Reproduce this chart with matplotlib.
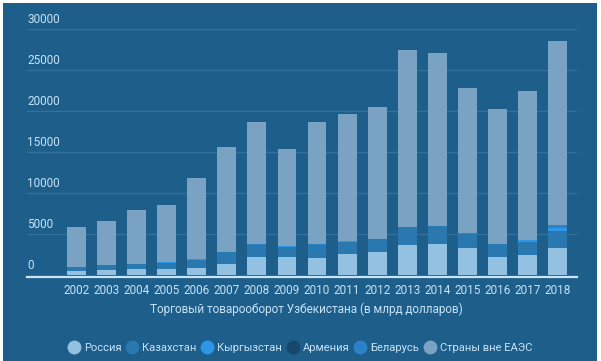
import matplotlib
matplotlib.use('Agg')
import matplotlib.pyplot as plt
from matplotlib.patches import Rectangle
from matplotlib.lines import Line2D
import matplotlib.transforms as mtransforms
import numpy as np

plt.rcParams['font.family'] = ['Roboto', 'DejaVu Sans']

years = ['2002', '2003', '2004', '2005', '2006', '2007', '2008', '2009', '2010',
         '2011', '2012', '2013', '2014', '2015', '2016', '2017', '2018']
russia = [560, 680, 800, 800, 930, 1420, 2230, 2270, 2150, 2560, 2800, 3730, 3850, 3290, 2230, 2510, 3290]
kazakhstan = [430, 550, 550, 750, 990, 1390, 1510, 1230, 1590, 1550, 1620, 2160, 2160, 1790, 1580, 1590, 2150]
kyrgyzstan = [15, 15, 15, 15, 15, 15, 15, 15, 15, 15, 15, 15, 15, 15, 15, 150, 300]
armenia = [3, 3, 3, 3, 3, 3, 3, 3, 3, 3, 3, 3, 3, 3, 3, 5, 20]
belarus = [20, 20, 20, 20, 20, 20, 20, 20, 20, 20, 20, 20, 20, 20, 20, 30, 350]
totals = [5850, 6660, 7930, 8570, 11830, 15610, 18730, 15400, 18660, 19670, 20530,
          27480, 27070, 22840, 20320, 22440, 28540]
others = [t - r - k - ky - a - b for t, r, k, ky, a, b in
          zip(totals, russia, kazakhstan, kyrgyzstan, armenia, belarus)]

series_names = ['Россия', 'Казахстан', 'Кыргызстан', 'Армения', 'Беларусь', 'Страны вне ЕАЭС']
series_values = [russia, kazakhstan, kyrgyzstan, armenia, belarus, others]
series_colors = ['#92c1e2', '#2a78b0', '#2e96e6', '#17476d', '#2c82c6', '#7aa2c2']

y_ticks = [0, 5000, 10000, 15000, 20000, 25000, 30000]
x_label = 'Торговый товарооборот Узбекистана (в млрд долларов)'

BG = '#1d5e8b'
TEXT = '#c5e3f7'
GRID = '#33729e'

W, H = 601, 361
fig = plt.figure(figsize=(W / 100, H / 100), dpi=100, facecolor='white')
fig.patches.append(Rectangle((3 / W, 0), (W - 7) / W, (H - 3) / H,
                             transform=fig.transFigure, facecolor=BG,
                             edgecolor='none', zorder=-10))

ax = fig.add_axes([27 / W, (H - 276.8) / H, 550 / W, 247.5 / H])
ax.set_facecolor('none')

x = np.arange(len(years))
bottom = np.zeros(len(years))
for name, vals, col in zip(series_names, series_values, series_colors):
    ax.bar(x, vals, width=0.63, bottom=bottom, color=col, label=name, zorder=3)
    bottom += np.array(vals)

ax.set_xlim(-1.65, len(years) - 1 + 0.65)
ax.set_ylim(-180, 30000)

for v in y_ticks[1:]:
    ax.axhline(v, color=GRID, linewidth=1.0, zorder=1)

for s in ['top', 'right', 'left']:
    ax.spines[s].set_visible(False)
ax.spines['bottom'].set_color('#c8e6f8')
ax.spines['bottom'].set_linewidth(1.6)

ax.set_yticks([])
trans = mtransforms.blended_transform_factory(ax.transAxes, ax.transData)
for v in y_ticks:
    ax.annotate(str(v), xy=(0, v), xycoords=trans, xytext=(0, 2.5),
                textcoords='offset points', ha='left', va='bottom',
                color=TEXT, fontsize=8.5)

ax.set_xticks(x)
ax.set_xticklabels(years, color=TEXT, fontsize=8.5)
ax.tick_params(axis='x', length=0, pad=5)

fig.text(306 / W, (H - 309.5) / H, x_label, ha='center', va='center',
         color=TEXT, fontsize=8.5)

handles = [Line2D([], [], marker='o', linestyle='none', markersize=10,
                  markerfacecolor=c, markeredgecolor='none') for c in series_colors]
leg = fig.legend(handles, series_names, loc='center', ncol=6, frameon=False,
                 bbox_to_anchor=(300 / W, (H - 348) / H), fontsize=8,
                 handletextpad=0.35, columnspacing=0.4, handlelength=1.1,
                 labelcolor=TEXT)

fig.savefig('out.png', dpi=100, facecolor=fig.get_facecolor())
